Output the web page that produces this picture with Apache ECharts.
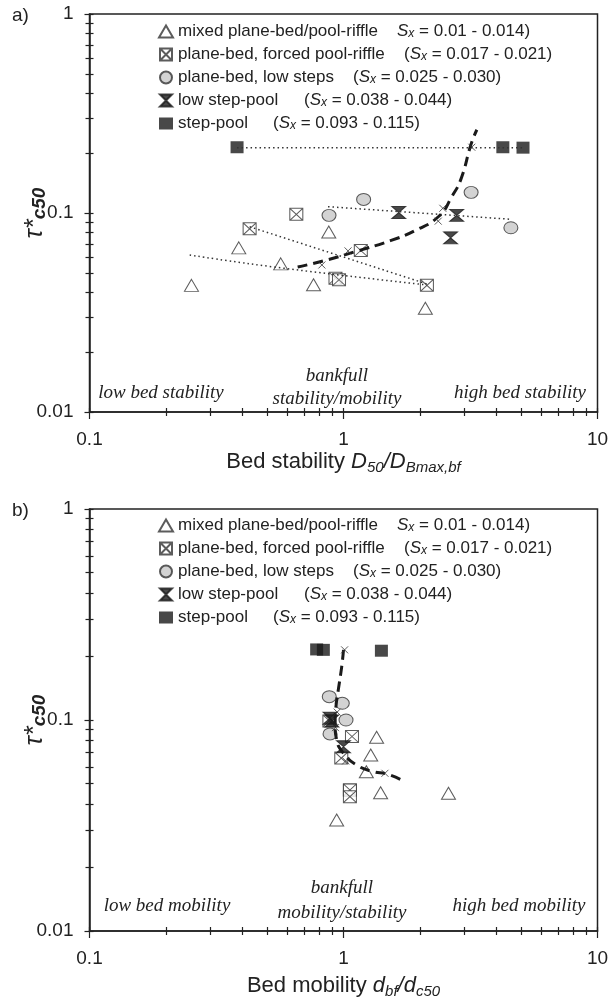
<!DOCTYPE html>
<html>
<head>
<meta charset="utf-8">
<script src="https://cdn.jsdelivr.net/npm/echarts@6/dist/echarts.min.js"></script>
<style>
  html, body { margin: 0; padding: 0; background: #fff; }
  #chart { width: 611px; height: 999px; }
</style>
</head>
<body>
<div id="chart"></div>
<script>
// groups (legend order)
const groupNames = ['mixed plane-bed/pool-riffle', 'plane-bed, forced pool-riffle', 'plane-bed, low steps', 'low step-pool', 'step-pool'];
const slopeOpen = ['', '(', '(', '(', '('];
const slopeText = [' = 0.01 - 0.014)', ' = 0.017 - 0.021)', ' = 0.025 - 0.030)', ' = 0.038 - 0.044)', ' = 0.093 - 0.115)'];

// panel a : tau*c50 vs D50/DBmax,bf
const triA   = [[0.252, 0.0433], [0.387, 0.0668], [0.566, 0.0555], [0.762, 0.0436], [0.875, 0.0802], [2.10, 0.0332]];
const crossA = [[0.427, 0.0833], [0.652, 0.0985], [1.17, 0.0648], [0.93, 0.0470], [0.96, 0.0462], [2.13, 0.0433]];
const circA  = [[0.877, 0.0973], [1.20, 0.117], [3.18, 0.127], [4.56, 0.0843]];
const hourA  = [[1.65, 0.1005], [2.79, 0.0973], [2.64, 0.075]];
const sqA    = [[0.381, 0.214], [4.24, 0.214], [5.09, 0.213]];
const meanA  = [[0.822, 0.0548], [1.042, 0.0645], [2.36, 0.091], [2.46, 0.1056], [3.2, 0.214]];
const fitTriA   = [[0.248, 0.0615], [0.547, 0.0533], [2.13, 0.0435]];
const fitCrossA = [[0.427, 0.0853], [2.13, 0.044]];
const fitCircA  = [[0.869, 0.1076], [4.6, 0.0929]];
const fitSqA    = [[0.381, 0.213], [5.09, 0.213]];
const trendA = [[0.66, 0.0535], [0.84, 0.0576], [1.11, 0.0639], [1.53, 0.0726], [1.91, 0.0815], [2.38, 0.0966], [2.67, 0.121], [2.9, 0.148], [3.18, 0.222], [3.35, 0.262]];

// panel b : tau*c50 vs dbf/dc50
const triB   = [[1.35, 0.0828], [1.28, 0.0683], [1.23, 0.0569], [1.40, 0.0452], [2.59, 0.0450], [0.94, 0.0336]];
const crossB = [[1.08, 0.0835], [0.98, 0.066], [1.06, 0.0466], [1.06, 0.0466], [1.06, 0.0433], [0.88, 0.099]];
const circB  = [[0.879, 0.129], [0.989, 0.120], [1.023, 0.100], [0.885, 0.0859]];
const hourB  = [[0.885, 0.102], [0.90, 0.099], [1.0, 0.0747]];
const sqB    = [[0.784, 0.216], [0.833, 0.215], [1.41, 0.213]];
const meanB  = [[1.456, 0.0559], [1.02, 0.064], [0.93, 0.092], [0.944, 0.109], [1.01, 0.215]];
const trendB = [[1.0, 0.215], [0.984, 0.179], [0.954, 0.139], [0.934, 0.116], [0.926, 0.0965], [0.94, 0.0804], [1.0, 0.0695], [1.127, 0.0612], [1.31, 0.0569], [1.48, 0.0555], [1.69, 0.052]];

// tick positions (log10 units)
const xMajor = [-1, 0, 1];
const yMajor = [-2, -1, 0];
const xMinor = [];
const yMinor = [];
for (const d of [-1, 0]) for (let k = 2; k <= 9; k++) xMinor.push(d + Math.log10(k));
for (const d of [-2, -1]) for (let k = 2; k <= 9; k++) yMinor.push(d + Math.log10(k));

const SANS = 'Liberation Sans';
const SERIF = 'Liberation Serif';
const INK = '#222';

const chart = echarts.init(document.getElementById('chart'));

const grids = [
  { left: 89.5, top: 14, width: 508, height: 398 },
  { left: 89.5, top: 509, width: 508, height: 422 }
];

// marker styles per group
const groupStyle = [
  { symbol: 'triangle', symbolSize: [14, 12], itemStyle: { color: '#fff', borderColor: '#333', borderWidth: 1 } },
  { symbol: 'path://M0,0L10,0L10,10L0,10Z M0,0L10,10 M10,0L0,10', symbolSize: [13, 12], itemStyle: { color: '#fff', borderColor: '#333', borderWidth: 1 } },
  { symbol: 'circle', symbolSize: [14, 12], itemStyle: { color: '#c8c8c8', borderColor: '#333', borderWidth: 1 } },
  { symbol: 'path://M0,0L10,0L0,10L10,10Z', symbolSize: [14, 12], itemStyle: { color: '#1a1a1a', borderColor: '#1a1a1a', borderWidth: 1 } },
  { symbol: 'rect', symbolSize: [13, 12], itemStyle: { color: '#1a1a1a' } }
];

function scatter(i, data, panel) {
  return Object.assign({
    type: 'scatter', name: groupNames[i], data: data,
    xAxisIndex: panel, yAxisIndex: panel, z: 2, silent: true
  }, groupStyle[i]);
}
function meanSeries(data, panel) {
  return {
    type: 'scatter', name: 'mean', data: data, xAxisIndex: panel, yAxisIndex: panel, z: 4, silent: true,
    symbol: 'path://M0,0L10,10M10,0L0,10', symbolSize: 7,
    itemStyle: { color: 'none', borderColor: '#333', borderWidth: 1 }
  };
}
function line(data, panel, style, smooth) {
  return {
    type: 'line', data: data, xAxisIndex: panel, yAxisIndex: panel, z: 3, silent: true,
    symbol: 'none', smooth: smooth || false, lineStyle: style
  };
}
const dotted = { color: '#333', width: 1.5, type: [1.5, 3] };
const dashed = { color: '#1a1a1a', width: 3, type: [10, 6] };

function mainX(g, nameRich, gap) {
  return {
    type: 'log', gridIndex: g, min: 0.1, max: 10, logBase: 10, position: 'bottom',
    name: nameRich, nameLocation: 'middle', nameGap: gap,
    nameTextStyle: {
      fontFamily: SANS, fontSize: 22, color: INK,
      rich: {
        n: { fontFamily: SANS, fontSize: 22, color: INK, lineHeight: 26 },
        i: { fontFamily: SANS, fontSize: 22, fontStyle: 'italic', color: INK, lineHeight: 26 },
        s: { fontFamily: SANS, fontSize: 15, fontStyle: 'italic', color: INK, lineHeight: 12, verticalAlign: 'bottom' }
      }
    },
    axisLine: { show: true, onZero: false, lineStyle: { color: INK, width: 1.5 } },
    axisTick: { show: true, inside: false, length: 7, lineStyle: { color: INK, width: 1.2 } },
    axisLabel: { margin: 18, fontFamily: SANS, fontSize: 19, color: INK, formatter: v => String(+v.toPrecision(3)) },
    splitLine: { show: false }
  };
}
function mainY(g) {
  return {
    type: 'log', gridIndex: g, min: 0.01, max: 1, logBase: 10, position: 'left',
    name: '{t|τ*}{s|c50}', nameLocation: 'middle', nameGap: 40, nameRotate: 90, nameMoveOverlap: false,
    nameTextStyle: {
      rich: {
        t: { fontFamily: SANS, fontSize: 25, fontStyle: 'italic', color: INK, lineHeight: 28 },
        s: { fontFamily: SANS, fontSize: 19, fontStyle: 'italic', fontWeight: 'bold', color: INK, lineHeight: 14, verticalAlign: 'bottom' }
      }
    },
    axisLine: { show: true, onZero: false, lineStyle: { color: INK, width: 1.5 } },
    axisTick: { show: true, inside: false, length: 5, lineStyle: { color: INK, width: 1.2 } },
    axisLabel: { margin: 16, fontFamily: SANS, fontSize: 19, color: INK, formatter: v => String(+v.toPrecision(3)) },
    splitLine: { show: false }
  };
}
function decoAxis(g, min, max, values, inside, pos) {
  return {
    type: 'value', gridIndex: g, min: min, max: max, position: pos, offset: 0,
    axisLine: { show: false, onZero: false }, axisLabel: { show: false }, splitLine: { show: false },
    axisTick: { show: true, inside: inside, length: 4, customValues: values, lineStyle: { color: INK, width: 1.2 } }
  };
}

function legendFor(top) {
  const rich = {
    i: { fontFamily: SANS, fontSize: 17, fontStyle: 'italic', color: INK, lineHeight: 17 },
    x: { fontFamily: SANS, fontSize: 12, fontStyle: 'italic', color: INK, lineHeight: 8, verticalAlign: 'bottom' },
    n: { fontFamily: SANS, fontSize: 17, color: INK, lineHeight: 17 }
  };
  const offsets = [219, 226, 175, 126, 95];
  offsets.forEach((w, k) => { rich['w' + k] = { fontFamily: SANS, fontSize: 17, color: INK, lineHeight: 17, width: w }; });
  return {
    data: groupNames, orient: 'vertical', left: 153, top: top,
    itemWidth: 14, itemHeight: 12, itemGap: 6, selectedMode: false,
    textStyle: { fontFamily: SANS, fontSize: 17, color: INK, lineHeight: 17, rich: rich },
    formatter: name => {
      const k = groupNames.indexOf(name);
      return '{w' + k + '|' + name + '}{n|' + slopeOpen[k] + '}{i|S}{x|x}{n|' + slopeText[k] + '}';
    }
  };
}

function note(text, x, y) {
  return {
    type: 'text', x: x, y: y, silent: true,
    style: {
      text: text, fill: INK, fontFamily: SERIF, fontStyle: 'italic', fontSize: 19,
      align: 'center', verticalAlign: 'middle', textAlign: 'center', textVerticalAlign: 'middle'
    }
  };
}

const option = {
  backgroundColor: '#fff',
  animation: false,
  grid: grids.map(g => Object.assign({ show: true, borderColor: INK, borderWidth: 1.5, containLabel: false, outerBoundsMode: 'none' }, g)),
  legend: [legendFor(18), legendFor(512)],
  xAxis: [
    mainX(0, '{n|Bed stability }{i|D}{s|50}{i|/D}{s|Bmax,bf}', 37),
    mainX(1, '{n|Bed mobility }{i|d}{s|bf}{i|/d}{s|c50}', 42),
    decoAxis(0, -1, 1, xMinor.concat(xMajor), true, 'bottom'),
    decoAxis(0, -1, 1, xMinor, false, 'bottom'),
    decoAxis(1, -1, 1, xMinor.concat(xMajor), true, 'bottom'),
    decoAxis(1, -1, 1, xMinor, false, 'bottom')
  ],
  yAxis: [
    mainY(0),
    mainY(1),
    decoAxis(0, -2, 0, yMinor.concat(yMajor), true, 'left'),
    decoAxis(0, -2, 0, yMinor, false, 'left'),
    decoAxis(1, -2, 0, yMinor.concat(yMajor), true, 'left'),
    decoAxis(1, -2, 0, yMinor, false, 'left')
  ],
  graphic: [
    { type: 'text', left: 12, top: 6, style: { text: 'a)', fontFamily: SANS, fontSize: 19, fill: INK } },
    { type: 'text', left: 12, top: 501, style: { text: 'b)', fontFamily: SANS, fontSize: 19, fill: INK } },
    note('low bed stability', 161, 393),
    note('bankfull', 337, 376),
    note('stability/mobility', 337, 399),
    note('high bed stability', 520, 393),
    note('low bed mobility', 167, 906),
    note('bankfull', 342, 888),
    note('mobility/stability', 342, 913),
    note('high bed mobility', 519, 906)
  ],
  series: [
    scatter(0, triA, 0), scatter(1, crossA, 0), scatter(2, circA, 0), scatter(3, hourA, 0), scatter(4, sqA, 0),
    line(fitTriA, 0, dotted, true), line(fitCrossA, 0, dotted), line(fitCircA, 0, dotted), line(fitSqA, 0, dotted),
    line(trendA, 0, dashed, true),
    meanSeries(meanA, 0),
    scatter(0, triB, 1), scatter(1, crossB, 1), scatter(2, circB, 1), scatter(3, hourB, 1), scatter(4, sqB, 1),
    line(trendB, 1, dashed, true),
    meanSeries(meanB, 1)
  ]
};

chart.setOption(option);
</script>
</body>
</html>
